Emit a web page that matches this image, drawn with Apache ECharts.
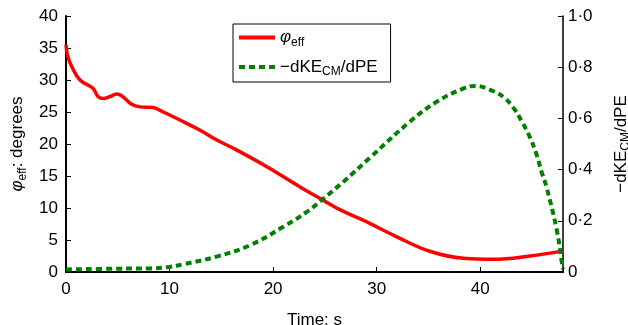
<!DOCTYPE html>
<html>
<head>
<meta charset="utf-8">
<script src="https://cdn.jsdelivr.net/npm/echarts@6/dist/echarts.min.js"></script>
<style>
  html, body { margin: 0; padding: 0; background: #fff; }
  #chart { width: 628px; height: 325px; }
</style>
</head>
<body>
<div id="chart"></div>
<script>
// time (s) and phi_eff (degrees)
const phiTime = [0, 0.15, 0.55, 1.35, 2.6, 3.1, 3.6, 4.25, 4.9, 5.4, 6.3, 7.15, 8.4, 9.4, 11.0, 13.0, 14.7, 16.2, 19.4, 22.6, 24.7, 26.5, 28.7, 31.95, 35.2, 38.4, 41.3, 44.8, 48];
const phiValues = [35.5, 33.8, 32.1, 30.0, 28.7, 27.4, 27.1, 27.4, 27.8, 27.5, 26.25, 25.8, 25.7, 25.0, 23.75, 22.1, 20.5, 19.3, 16.45, 13.3, 11.35, 9.7, 8.1, 5.5, 3.2, 2.14, 1.98, 2.5, 3.3];

// time (s) and -dKE_CM/dPE
const keTime = [0, 5, 8.1, 10, 11.3, 14.55, 17.8, 21.0, 23.3, 24.9, 26.8, 29.4, 33.2, 35.8, 38.4, 39.5, 41.3, 42.3, 43.2, 44.0, 44.8, 45.4, 45.97, 46.4, 47.4, 47.9, 48];
const keValues = [0.01, 0.013, 0.014, 0.02, 0.03, 0.06, 0.105, 0.177, 0.236, 0.288, 0.353, 0.448, 0.587, 0.665, 0.717, 0.727, 0.706, 0.682, 0.642, 0.59, 0.527, 0.464, 0.386, 0.333, 0.164, 0.034, 0.01];

const xTicks = [0, 10, 20, 30, 40];

const font = "'Liberation Sans', Arial, sans-serif";
const sub = { fontSize: 12, fontFamily: font, color: '#000', padding: [10, 0, 0, 0] };

const chart = echarts.init(document.getElementById('chart'), null, { renderer: 'canvas' });

const zip = (xs, ys) => xs.map((x, i) => [x, ys[i]]);

const axisBase = {
  axisLine: { show: true, lineStyle: { color: '#000', width: 2 } },
  axisTick: { show: true, inside: true, length: 5, lineStyle: { color: '#000', width: 1 } },
  splitLine: { show: false },
  axisLabel: { color: '#000', fontSize: 17, fontFamily: font },
};

chart.setOption({
  animation: false,
  backgroundColor: '#fff',
  // outerBoundsMode none: keep the plot box exactly where the grid says
  grid: { left: 66, right: 65, top: 16, bottom: 53, outerBoundsMode: 'none' },
  legend: {
    orient: 'vertical',
    left: 233,
    top: 24,
    padding: [5, 13, 4, 4],
    itemGap: 10,
    itemWidth: 36,
    itemHeight: 14,
    borderColor: '#000',
    borderWidth: 1,
    // hide the marker the line legend icon puts in the middle
    itemStyle: { opacity: 0 },
    lineStyle: { width: 4 },
    textStyle: {
      color: '#000',
      fontSize: 17,
      fontFamily: font,
      rich: {
        i: { fontSize: 17, fontFamily: font, fontStyle: 'italic', color: '#000' },
        s: sub,
      },
    },
    formatter: name => name === 'phi' ? '{i|φ}{s|eff}' : '−dKE{s|CM}/dPE',
    data: ['phi', 'ke'],
  },
  xAxis: {
    ...axisBase,
    type: 'value',
    min: 0,
    max: 48,
    interval: 10,
    name: 'Time: s',
    nameLocation: 'middle',
    nameGap: 40,
    nameTextStyle: { color: '#000', fontSize: 17, fontFamily: font },
    axisLabel: {
      ...axisBase.axisLabel,
      margin: 9,
      formatter: v => xTicks.includes(v) ? String(v) : '',
    },
  },
  yAxis: [
    {
      ...axisBase,
      type: 'value',
      min: 0,
      max: 40,
      interval: 5,
      position: 'left',
      name: '{i|φ}{s|eff}: degrees',
      nameLocation: 'middle',
      nameRotate: 90,
      nameGap: 34,
      nameTextStyle: {
        color: '#000', fontSize: 17, fontFamily: font,
        rich: {
          i: { fontSize: 17, fontFamily: font, fontStyle: 'italic', color: '#000' },
          s: sub,
        },
      },
      axisLabel: { ...axisBase.axisLabel, margin: 8 },
    },
    {
      ...axisBase,
      type: 'value',
      min: 0,
      max: 1,
      interval: 0.2,
      position: 'right',
      axisLine: { show: true, lineStyle: { color: '#000', width: 1.5 } },
      name: '−dKE{s|CM}/dPE',
      nameLocation: 'middle',
      nameRotate: 90,
      nameGap: 47,
      nameTextStyle: {
        color: '#000', fontSize: 17, fontFamily: font,
        rich: { s: sub },
      },
      axisLabel: {
        ...axisBase.axisLabel,
        margin: 5,
        formatter: v => v === 0 ? '0' : v.toFixed(1).replace('.', '·'),
      },
    },
  ],
  series: [
    {
      name: 'phi',
      type: 'line',
      yAxisIndex: 0,
      data: zip(phiTime, phiValues),
      symbol: 'none',
      smooth: 0.4,
      lineStyle: { color: '#ff0000', width: 3.5 },
      itemStyle: { color: '#ff0000' },
      z: 3,
    },
    {
      name: 'ke',
      type: 'line',
      yAxisIndex: 1,
      data: zip(keTime, keValues),
      symbol: 'none',
      smooth: 0.4,
      lineStyle: { color: '#008000', width: 4, type: [6, 4] },
      itemStyle: { color: '#008000' },
      z: 4,
    },
  ],
});
</script>
</body>
</html>
